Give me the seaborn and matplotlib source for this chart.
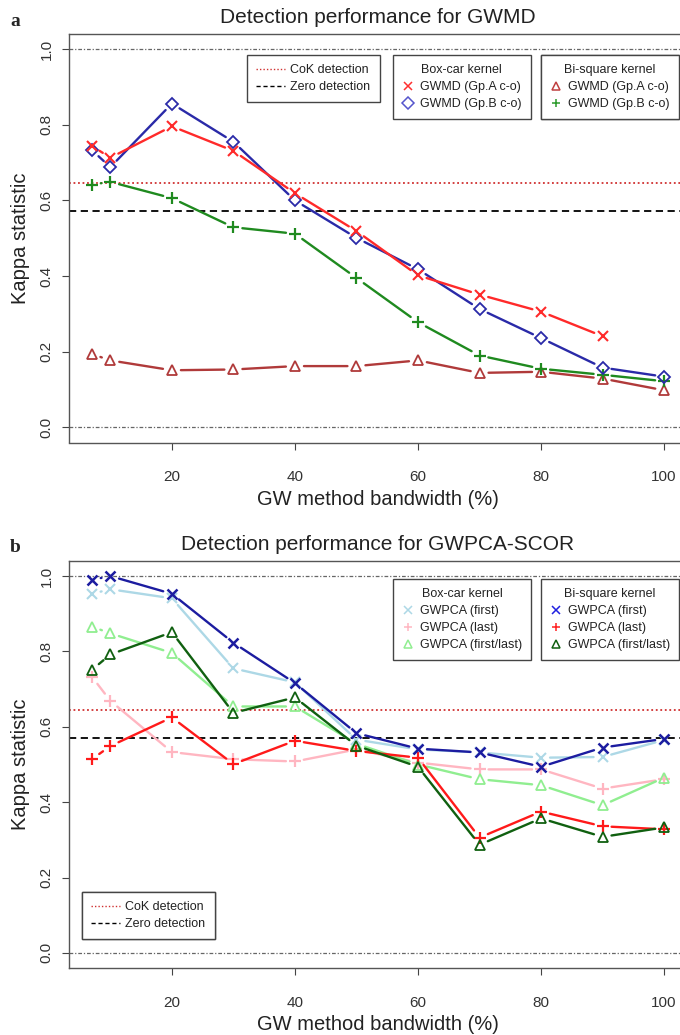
import numpy as np
import pandas as pd
import seaborn as sns
import matplotlib.pyplot as plt
from matplotlib.lines import Line2D

# bandwidth (%) used for every series
bandwidth = [7, 10, 20, 30, 40, 50, 60, 70, 80, 90, 100]

# panel a - GWMD
gwmd_box_gpa = [0.744, 0.713, 0.796, 0.731, 0.619, 0.519, 0.402, 0.351, 0.306, 0.241, np.nan]
gwmd_box_gpb = [0.733, 0.688, 0.856, 0.755, 0.600, 0.501, 0.418, 0.313, 0.236, 0.158, 0.134]
gwmd_bi_gpa = [0.194, 0.177, 0.151, 0.153, 0.162, 0.162, 0.177, 0.144, 0.147, 0.129, 0.098]
gwmd_bi_gpb = [0.642, 0.649, 0.606, 0.529, 0.512, 0.395, 0.278, 0.190, 0.155, 0.139, 0.122]

# panel b - GWPCA-SCOR
pca_box_first = [0.953, 0.965, 0.941, 0.755, 0.718, 0.566, 0.540, 0.532, 0.518, 0.520, 0.565]
pca_box_last = [0.733, 0.669, 0.533, 0.514, 0.508, 0.540, 0.505, 0.487, 0.487, 0.436, 0.461]
pca_box_fl = [0.866, 0.848, 0.796, 0.654, 0.654, 0.555, 0.500, 0.461, 0.445, 0.392, 0.465]
pca_bi_first = [0.990, 1.000, 0.953, 0.823, 0.716, 0.583, 0.542, 0.532, 0.494, 0.545, 0.568]
pca_bi_last = [0.514, 0.549, 0.625, 0.501, 0.563, 0.536, 0.518, 0.306, 0.375, 0.336, 0.328]
pca_bi_fl = [0.751, 0.792, 0.851, 0.637, 0.678, 0.550, 0.494, 0.287, 0.357, 0.308, 0.333]

cok_level = 0.645
zero_level = 0.571

sns.set_theme(style="white")
plt.rcParams["font.family"] = ["Liberation Sans", "DejaVu Sans"]

fig = plt.figure(figsize=(6.8, 10.35), dpi=100)
W, H = 680, 1035


def px_axes(left, top, right, bottom):
    return fig.add_axes([left / W, 1 - bottom / H, (right - left) / W, (bottom - top) / H])


def draw_series(ax, y, color, marker, size=7, mew=1.3):
    # R type="b": segments with gaps around the points
    df = pd.DataFrame({"bw": bandwidth, "kappa": y}).dropna()
    pts = list(zip(df["bw"], df["kappa"]))
    for p1, p2 in zip(pts[:-1], pts[1:]):
        ax.annotate("", xy=p2, xytext=p1,
                    arrowprops=dict(arrowstyle="-", color=color, lw=1.7,
                                    shrinkA=6.5, shrinkB=6.5,
                                    patchA=None, patchB=None))
    sns.lineplot(data=df, x="bw", y="kappa", ax=ax, color=color, marker=marker,
                 linestyle="none", markersize=size, markerfacecolor="none",
                 markeredgecolor=color, markeredgewidth=mew, errorbar=None)


def style_axes(ax, title):
    ax.set_xlim(3.28, 103.72)
    ax.set_ylim(-0.04, 1.04)
    ax.axhline(1.0, color="#666666", lw=0.9, dashes=(3, 1.5, 1, 1.5))
    ax.axhline(0.0, color="#666666", lw=0.9, dashes=(3, 1.5, 1, 1.5))
    ax.axhline(cok_level, color="#d03030", lw=1.3, ls=(0, (1, 1.5)))
    ax.axhline(zero_level, color="black", lw=1.3, ls=(0, (4, 2.5)))
    ax.set_xticks([20, 40, 60, 80, 100])
    ax.set_xticklabels(["20", "40", "60", "80", "100"])
    yt = [0.0, 0.2, 0.4, 0.6, 0.8, 1.0]
    ax.set_yticks(yt)
    ax.set_yticklabels([f"{v:.1f}" for v in yt], rotation=90, va="center")
    ax.tick_params(axis="both", direction="out", length=5, width=0.8,
                   color="#444444", labelcolor="#333333", labelsize=11,
                   left=True, bottom=True)
    ax.tick_params(axis="x", pad=15)
    ax.tick_params(axis="y", pad=6)
    for s in ["left", "bottom", "top"]:
        ax.spines[s].set_color("#555555")
        ax.spines[s].set_linewidth(1.0)
    ax.spines["right"].set_visible(False)
    ax.set_title(title, fontsize=15, color="#222222", pad=8)
    ax.set_xlabel("GW method bandwidth (%)", fontsize=14.5, color="#222222", labelpad=4)
    ax.set_ylabel("Kappa statistic", fontsize=14.5, color="#222222", labelpad=7)


def add_legend(ax, handles, labels, x0, y0, title=None, hl=1.0):
    leg = ax.legend(handles, labels, title=title, loc="upper left",
                    bbox_to_anchor=(x0 / W, 1 - y0 / H), bbox_transform=fig.transFigure,
                    frameon=True, fancybox=False, edgecolor="#444444", framealpha=1,
                    fontsize=9.0, title_fontsize=9.0, handlelength=hl, handletextpad=0.45,
                    borderaxespad=0, borderpad=0.72, labelspacing=0.4)
    leg.get_frame().set_linewidth(1.0)
    for t in leg.get_texts():
        t.set_color("#222222")
    if title:
        leg.get_title().set_color("#222222")
    ax.add_artist(leg)


def mk(color, marker):
    return Line2D([], [], color=color, marker=marker, linestyle="none", markersize=6,
                  markerfacecolor="none", markeredgecolor=color, markeredgewidth=1.1)


ref_handles = [Line2D([], [], color="#d03030", lw=1.0, ls=(0, (1, 1.5))),
               Line2D([], [], color="black", lw=1.0, ls=(0, (3, 2)))]
ref_labels = ["CoK detection", "Zero detection"]

# ---- panel a ----
ax1 = px_axes(69, 34, 687, 442.5)
style_axes(ax1, "Detection performance for GWMD")
draw_series(ax1, gwmd_bi_gpa, "#b03a3a", "^", size=7)
draw_series(ax1, gwmd_bi_gpb, "#1f8a1f", "+", size=9, mew=1.6)
draw_series(ax1, gwmd_box_gpb, "#2a2aa8", "D", size=6.5)
draw_series(ax1, gwmd_box_gpa, "#ff2a2a", "x", size=7, mew=1.5)

add_legend(ax1, ref_handles, ref_labels, 247, 55, hl=2.3)
add_legend(ax1, [mk("#ff3030", "x"), mk("#5555cc", "D")],
           ["GWMD (Gp.A c-o)", "GWMD (Gp.B c-o)"], 393, 55, title="Box-car kernel")
add_legend(ax1, [mk("#c04040", "^"), mk("#2a9a2a", "+")],
           ["GWMD (Gp.A c-o)", "GWMD (Gp.B c-o)"], 541, 55, title="Bi-square kernel")

# ---- panel b ----
ax2 = px_axes(69, 561, 687, 968)
style_axes(ax2, "Detection performance for GWPCA-SCOR")
draw_series(ax2, pca_box_last, "#ffb6c1", "+", size=9, mew=1.6)
draw_series(ax2, pca_box_fl, "#90ee90", "^", size=7)
draw_series(ax2, pca_box_first, "#add8e6", "x", size=7, mew=1.5)
draw_series(ax2, pca_bi_last, "#ff1a1a", "+", size=9, mew=1.6)
draw_series(ax2, pca_bi_fl, "#106010", "^", size=7)
draw_series(ax2, pca_bi_first, "#1c1ca0", "x", size=7, mew=1.8)

add_legend(ax2, [mk("#add8e6", "x"), mk("#ffb6c1", "+"), mk("#90ee90", "^")],
           ["GWPCA (first)", "GWPCA (last)", "GWPCA (first/last)"], 393, 579,
           title="Box-car kernel")
add_legend(ax2, [mk("#2020e0", "x"), mk("#ff2020", "+"), mk("#106010", "^")],
           ["GWPCA (first)", "GWPCA (last)", "GWPCA (first/last)"], 541, 579,
           title="Bi-square kernel")
add_legend(ax2, ref_handles, ref_labels, 82, 892, hl=2.3)

fig.text(10 / W, 1 - 22 / H, "a", fontfamily="Liberation Serif", fontweight="bold",
         fontsize=14, va="center")
fig.text(10 / W, 1 - 548 / H, "b", fontfamily="Liberation Serif", fontweight="bold",
         fontsize=14, va="center")

fig.savefig("out.png", dpi=100)
